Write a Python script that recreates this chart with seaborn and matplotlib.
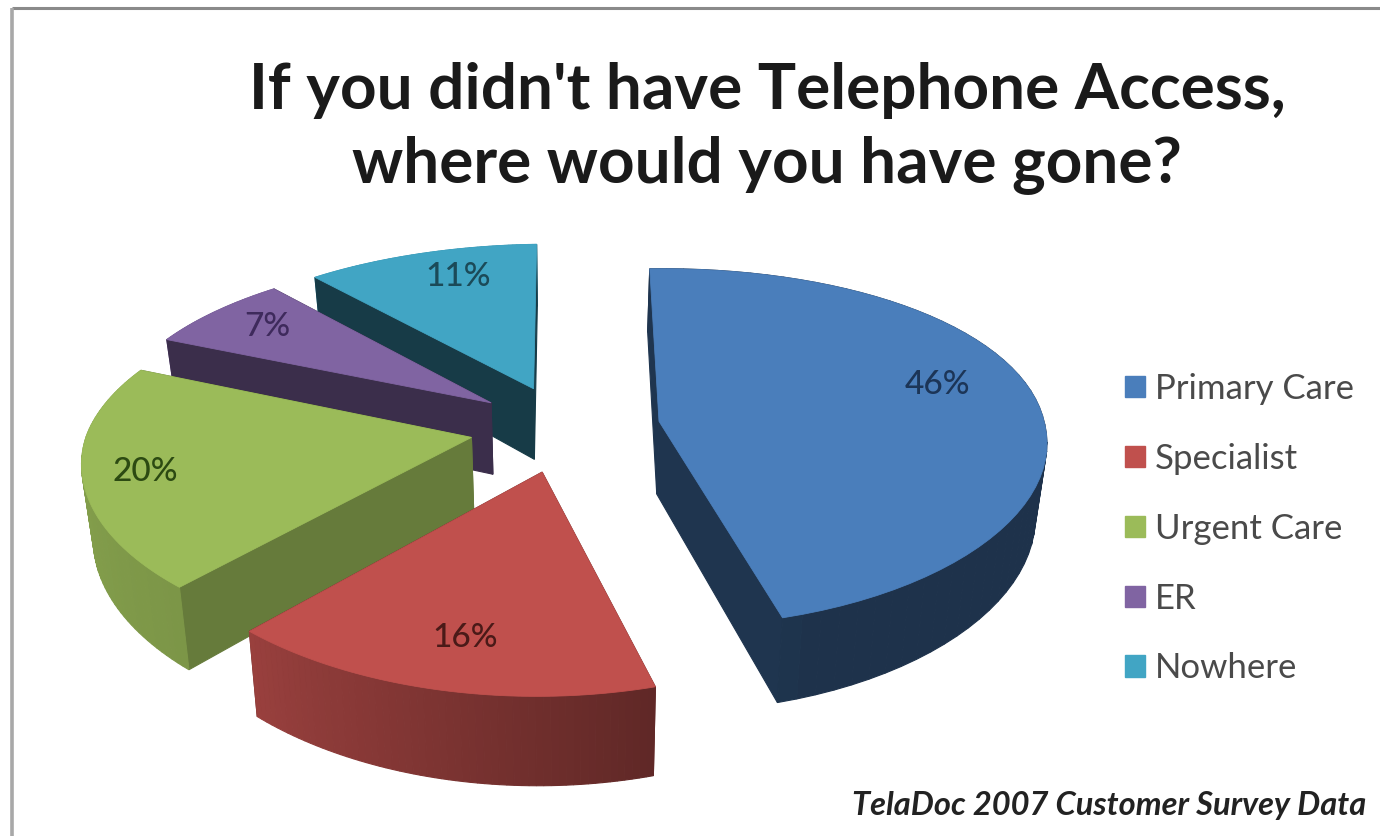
import numpy as np
import matplotlib
matplotlib.use("Agg")
import matplotlib.pyplot as plt
from matplotlib.patches import Patch, Polygon
import seaborn as sns

# Survey results, in chart order (clockwise from twelve o'clock)
categories = ["Primary Care", "Specialist", "Urgent Care", "ER", "Nowhere"]
percentages = [46, 16, 20, 7, 11]

TITLE = "If you didn't have Telephone Access,\nwhere would you have gone?"
SOURCE = "TelaDoc 2007 Customer Survey Data"

sns.set_theme(style="white")
plt.rcParams["font.family"] = ["Lato", "DejaVu Sans"]

top_colors = sns.color_palette(["#4A7EBB", "#C0504D", "#9BBB59", "#8064A2", "#41A5C4"])
label_colors = ["#1C3557", "#4A1A18", "#2C4A12", "#3E2A5C", "#1B4A58"]
radial_shade = [0.42, 0.55, 0.66, 0.46, 0.36]
label_px = [(937, 385), (465, 638), (145, 472), (267, 327), (458, 277)]

# Camera model for the tilted, exploded pie (unit radius in the plane)
CX, CY = 565.0, 428.0
SCALE_X, SCALE_Y = 385.0, 176.6
PERSPECTIVE_X, PERSPECTIVE_Y = 0.11, 0.148
ROLL = 5.0
NEAR_DRIFT = 6.0
EXPLODE = 0.247
DEPTH_PX = 73.0
BOTTOM_SHRINK = 0.025


def project(x, y, z=0.0):
    """Map pie-plane coordinates to canvas pixels; z=1 is the underside."""
    qx = 1.0 / (1.0 + PERSPECTIVE_X * y)
    qy = 1.0 / (1.0 + PERSPECTIVE_Y * y)
    drift = NEAR_DRIFT * max(-y, 0.0)
    px = CX + drift + SCALE_X * x * qx / (1.0 + BOTTOM_SHRINK * z)
    py = CY - SCALE_Y * y * qy - ROLL * x + DEPTH_PX * z * qy
    return np.column_stack([np.atleast_1d(px), np.atleast_1d(py)])


def arc_shade(theta):
    """Brightness of the rim as it turns away from the light."""
    return np.interp(theta, [-210, -133, -76, -74, 90], [0.90, 0.80, 0.50, 0.40, 0.40])


fig = plt.figure(figsize=(13.8, 8.36), dpi=100, facecolor="white")
ax = fig.add_axes([0, 0, 1, 1])
ax.set_xlim(0, 1380)
ax.set_ylim(836, 0)
ax.axis("off")

# Window frame along the top and left
ax.plot([12, 1380], [8, 8], color="#8A8A8A", lw=2.2, solid_capstyle="butt")
ax.plot([12, 12], [8, 836], color="#A8A8A8", lw=2.6, solid_capstyle="butt")

# Slice angles follow the percentages, clockwise from the top
shares = np.array(percentages, dtype=float) / sum(percentages) * 360.0
ends = 90.0 - np.cumsum(shares)
starts = ends + shares


def draw_slice(i):
    a0, a1 = starts[i], ends[i]
    mid = np.radians((a0 + a1) / 2)
    ox, oy = EXPLODE * np.cos(mid), EXPLODE * np.sin(mid)
    thetas = np.linspace(a0, a1, 60)
    rx = ox + np.cos(np.radians(thetas))
    ry = oy + np.sin(np.radians(thetas))
    base = np.array(top_colors[i])

    faces = []
    # Two straight cut faces
    for k in (0, -1):
        quad = np.vstack([
            project(ox, oy, 0), project(rx[k], ry[k], 0),
            project(rx[k], ry[k], 1), project(ox, oy, 1),
        ])
        faces.append(((oy + ry[k]) / 2, quad, base * radial_shade[i]))
    # Outer rim, split into shaded strips
    for j in range(len(thetas) - 1):
        quad = np.vstack([
            project(rx[j], ry[j], 0), project(rx[j + 1], ry[j + 1], 0),
            project(rx[j + 1], ry[j + 1], 1), project(rx[j], ry[j], 1),
        ])
        shade = arc_shade((thetas[j] + thetas[j + 1]) / 2)
        faces.append(((ry[j] + ry[j + 1]) / 2, quad, base * shade))

    # Far faces first, then the top surface over everything
    for _, quad, col in sorted(faces, key=lambda f: -f[0]):
        ax.add_patch(Polygon(quad, closed=True, facecolor=col, edgecolor=col, lw=0.8))
    outline = np.vstack([project(ox, oy, 0)] + [project(a, b, 0) for a, b in zip(rx, ry)])
    ax.add_patch(Polygon(outline, closed=True, facecolor=base, edgecolor=base, lw=0.6))


# Back slices first so that nearer ones overlap them
for idx in [4, 3, 2, 1, 0]:
    draw_slice(idx)

for value, (lx, ly), col in zip(percentages, label_px, label_colors):
    ax.text(lx, ly, f"{value}%", ha="center", va="center", fontsize=24,
            color=col, fontweight="medium")

ax.text(767, 128, TITLE, ha="center", va="center", fontsize=46, fontweight="bold",
        color="#1A1A1A", linespacing=1.346)

handles = [Patch(facecolor=c, edgecolor=c, label=n) for c, n in zip(top_colors, categories)]
legend = ax.legend(handles=handles, loc="upper left", bbox_to_anchor=(1125 / 1380, 1 - 373 / 836),
                   frameon=False, fontsize=25, handlelength=0.576, handleheight=0.576,
                   handletextpad=0.29, labelspacing=1.09, borderpad=0, borderaxespad=0)
for text in legend.get_texts():
    text.set_color("#4A4A4A")

ax.text(1366, 806, SOURCE, ha="right", va="center", fontsize=23.5, fontweight="bold",
        fontstyle="italic", color="#222222")

fig.savefig("out.png", dpi=100, facecolor="white")
